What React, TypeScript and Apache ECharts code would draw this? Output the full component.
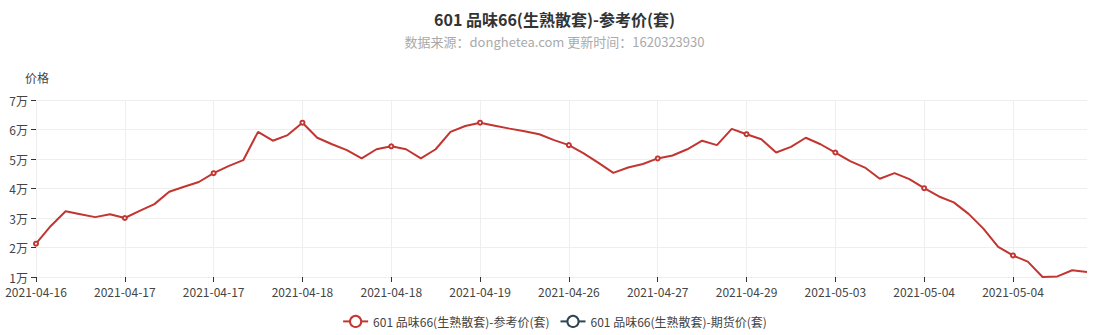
import React, { useEffect, useRef } from "react";
import * as echarts from "echarts";

const titleText = "601 品味66(生熟散套)-参考价(套)";
const subText = "数据来源：donghetea.com 更新时间：1620323930";
const seriesNames = ["601 品味66(生熟散套)-参考价(套)", "601 品味66(生熟散套)-期货价(套)"];

const dates = [
  "2021-04-16", "2021-04-16", "2021-04-16", "2021-04-16", "2021-04-16", "2021-04-16",
  "2021-04-17", "2021-04-17", "2021-04-17", "2021-04-17", "2021-04-17", "2021-04-17",
  "2021-04-17", "2021-04-17", "2021-04-17", "2021-04-17", "2021-04-18", "2021-04-18",
  "2021-04-18", "2021-04-18", "2021-04-18", "2021-04-18", "2021-04-18", "2021-04-18",
  "2021-04-18", "2021-04-18", "2021-04-18", "2021-04-19", "2021-04-19", "2021-04-19",
  "2021-04-19", "2021-04-20", "2021-04-21", "2021-04-22", "2021-04-23", "2021-04-25",
  "2021-04-26", "2021-04-26", "2021-04-26", "2021-04-27", "2021-04-27", "2021-04-27",
  "2021-04-27", "2021-04-28", "2021-04-28", "2021-04-28", "2021-04-29", "2021-04-29",
  "2021-04-29", "2021-04-30", "2021-04-30", "2021-05-01", "2021-05-02", "2021-05-03",
  "2021-05-03", "2021-05-03", "2021-05-04", "2021-05-04", "2021-05-04", "2021-05-04",
  "2021-05-04", "2021-05-04", "2021-05-04", "2021-05-04", "2021-05-04", "2021-05-04",
  "2021-05-04", "2021-05-05", "2021-05-05", "2021-05-05", "2021-05-05", "2021-05-06",
];

const refPrice = [
  21300, 27300, 32300, 31300, 30300, 31300,
  30000, 32400, 34700, 38900, 40600, 42200,
  45200, 47600, 49600, 59200, 56200, 58100,
  62300, 57200, 55000, 53000, 50200, 53300,
  54300, 53300, 50200, 53300, 59200, 61200,
  62300, 61300, 60300, 59400, 58400, 56400,
  54700, 51900, 48700, 45300, 47100, 48300,
  50200, 51200, 53300, 56200, 54700, 60200,
  58400, 56700, 52200, 54100, 57200, 55000,
  52200, 49300, 47100, 43300, 45200, 43200,
  40100, 37300, 35300, 31400, 26400, 20200,
  17300, 15200, 10000, 10200, 12300, 11700,
];

const futuresPrice: (number | null)[] = [];

const yMin = 10000;
const yMax = 70000;
const yStep = 10000;
const labelEvery = 6;

const font = "'Microsoft YaHei', 'Noto Sans CJK SC', sans-serif";

export default function App() {
  const ref = useRef<HTMLDivElement>(null);
  useEffect(() => {
    document.body.style.margin = "0";
    if (!ref.current) return;
    const chart = echarts.init(ref.current, undefined, { renderer: "svg" });
    chart.setOption({
      animation: false,
      color: ["#c23531", "#2f4554"],
      textStyle: { fontFamily: font },
      title: {
        text: titleText,
        subtext: subText,
        left: "center",
        top: 6,
        itemGap: 8,
        textStyle: { fontSize: 16, fontWeight: "bold", color: "#333", fontFamily: font },
        subtextStyle: { fontSize: 13, color: "#aaa", fontFamily: font },
      },
      legend: {
        bottom: 2,
        left: "center",
        itemWidth: 25,
        itemHeight: 14,
        itemGap: 10,
        textStyle: { fontSize: 12, color: "#444", fontFamily: font },
        data: seriesNames,
      },
      grid: { left: 36, right: 22, top: 100, bottom: 58 },
      xAxis: {
        type: "category",
        boundaryGap: false,
        data: dates,
        axisLine: { show: false },
        axisTick: { show: true, interval: labelEvery - 1, lineStyle: { color: "#333" } },
        axisLabel: { interval: labelEvery - 1, color: "#444", fontSize: 12, margin: 8 },
        splitLine: { show: true, interval: labelEvery - 1, lineStyle: { color: "#eee" } },
      },
      yAxis: {
        type: "value",
        name: "价格",
        nameTextStyle: { color: "#444", fontSize: 12, padding: [0, 0, 2, 2] },
        min: yMin,
        max: yMax,
        interval: yStep,
        axisLine: { show: false },
        axisTick: { show: true, lineStyle: { color: "#333" } },
        axisLabel: {
          color: "#444",
          fontSize: 12,
          formatter: (v: number) => v / 10000 + "万",
        },
        splitLine: { show: true, lineStyle: { color: "#eee" } },
      },
      series: [
        {
          name: seriesNames[0],
          type: "line",
          data: refPrice.map((v, i) => ({
            value: v,
            symbol: i % labelEvery === 0 ? "emptyCircle" : "none",
          })),
          symbol: "emptyCircle",
          symbolSize: 4,
          showSymbol: true,
          showAllSymbol: true,
          lineStyle: { width: 2 },
        },
        {
          name: seriesNames[1],
          type: "line",
          data: futuresPrice,
          symbol: "emptyCircle",
          symbolSize: 4,
          lineStyle: { width: 2 },
        },
      ],
    });
    return () => chart.dispose();
  }, []);
  return <div ref={ref} style={{ width: 1109, height: 335 }} />;
}
